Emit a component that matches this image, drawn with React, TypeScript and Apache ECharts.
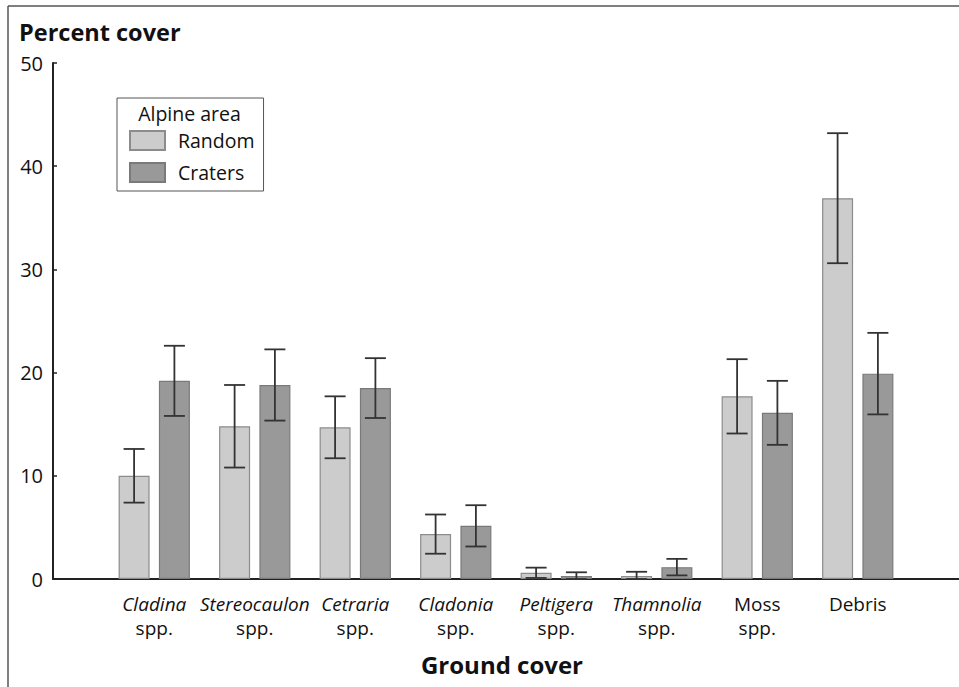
import React, { useEffect, useRef } from "react";
import * as echarts from "echarts";

const categories = [
  "Cladina spp.",
  "Stereocaulon spp.",
  "Cetraria spp.",
  "Cladonia spp.",
  "Peltigera spp.",
  "Thamnolia spp.",
  "Moss spp.",
  "Debris",
];
const italicGenus = [true, true, true, true, true, true, false, false];

const randomMean = [10.0, 14.8, 14.7, 4.35, 0.6, 0.3, 17.7, 36.9];
const randomErr = [2.6, 4.0, 3.0, 1.9, 0.5, 0.4, 3.6, 6.3];
const cratersMean = [19.2, 18.8, 18.5, 5.15, 0.3, 1.15, 16.1, 19.9];
const cratersErr = [3.4, 3.45, 2.9, 2.0, 0.35, 0.8, 3.1, 3.95];

const yTicks = [0, 10, 20, 30, 40, 50];
const seriesNames = ["Random", "Craters"];
const legendTitle = "Alpine area";
const yTitle = "Percent cover";
const xTitle = "Ground cover";

const FONT = "'Open Sans', 'Noto Sans', sans-serif";
const BAR_W = 31;
const BAR_GAP = 0.3;

export default function App() {
  const ref = useRef<HTMLDivElement>(null);
  useEffect(() => {
    if (!ref.current) return;
    const chart = echarts.init(ref.current, null, { renderer: "svg" });
    const half = (BAR_W * (1 + BAR_GAP)) / 2;
    const errData: number[][] = [];
    categories.forEach((_, i) => {
      errData.push([i, randomMean[i], randomErr[i], -1]);
      errData.push([i, cratersMean[i], cratersErr[i], 1]);
    });
    const option: any = {
      animation: false,
      backgroundColor: "#ffffff",
      textStyle: { fontFamily: FONT, color: "#111" },
      grid: [
        { left: 53, right: 0, top: 63, bottom: 108 },
        { left: 104, right: 51, top: 63, bottom: 108 },
      ],
      xAxis: [
        {
          gridIndex: 0,
          type: "value",
          min: 0,
          max: 1,
          axisLine: { show: true, onZero: false, lineStyle: { color: "#222", width: 2 } },
          axisTick: { show: false },
          axisLabel: { show: false },
          splitLine: { show: false },
        },
        {
          gridIndex: 1,
          type: "category",
          data: categories,
          axisLine: { show: false },
          axisTick: { show: false },
          splitLine: { show: false },
          axisLabel: {
            interval: 0,
            margin: 13,
            formatter: (v: string) => {
              const idx = categories.indexOf(v);
              const parts = v.split(" ");
              const g = italicGenus[idx] ? `{i|${parts[0]}}` : `{n|${parts[0]}}`;
              return parts.length > 1 ? `${g}\n{n|${parts.slice(1).join(" ")}}` : g;
            },
            rich: {
              i: { fontStyle: "italic", fontSize: 19, lineHeight: 24, fontFamily: FONT, color: "#111" },
              n: { fontSize: 19, lineHeight: 24, fontFamily: FONT, color: "#111" },
            },
          },
        },
      ],
      yAxis: [
        {
          gridIndex: 0,
          type: "value",
          min: yTicks[0],
          max: yTicks[yTicks.length - 1],
          interval: yTicks[1] - yTicks[0],
          axisLine: { show: true, lineStyle: { color: "#222", width: 2 } },
          axisTick: { show: true, inside: true, length: 4, lineStyle: { color: "#222", width: 1.5 } },
          axisLabel: { fontSize: 20, color: "#111", margin: 10, fontFamily: FONT },
          splitLine: { show: false },
        },
        {
          gridIndex: 1,
          type: "value",
          min: yTicks[0],
          max: yTicks[yTicks.length - 1],
          interval: yTicks[1] - yTicks[0],
          show: false,
        },
      ],
      legend: {
        data: seriesNames,
        orient: "vertical",
        icon: "rect",
        left: 117,
        top: 98,
        padding: [32, 9, 8, 12],
        itemWidth: 35,
        itemHeight: 19,
        itemGap: 11,
        borderColor: "#555",
        borderWidth: 1,
        textStyle: { fontSize: 19.5, lineHeight: 19, color: "#111", fontFamily: FONT, padding: [0, 0, 0, 8] },
      },
      series: [
        {
          name: seriesNames[0],
          type: "bar",
          xAxisIndex: 1,
          yAxisIndex: 1,
          data: randomMean,
          barWidth: BAR_W,
          barGap: `${BAR_GAP * 100}%`,
          itemStyle: { color: "#cccccc", borderColor: "#8c8c8c", borderWidth: 1.2 },
        },
        {
          name: seriesNames[1],
          type: "bar",
          xAxisIndex: 1,
          yAxisIndex: 1,
          data: cratersMean,
          barWidth: BAR_W,
          barGap: `${BAR_GAP * 100}%`,
          itemStyle: { color: "#999999", borderColor: "#7a7a7a", borderWidth: 1.2 },
        },
        {
          name: "errors",
          type: "custom",
          xAxisIndex: 1,
          yAxisIndex: 1,
          encode: { x: 0, y: 1 },
          data: errData,
          z: 10,
          renderItem: (params: any, api: any) => {
            const i = api.value(0);
            const m = api.value(1);
            const e = api.value(2);
            const dir = api.value(3);
            const top = api.coord([i, m + e]);
            const bot = api.coord([i, Math.max(0, m - e)]);
            const x = top[0] + dir * half;
            const cap = 10.5;
            const style = { stroke: "#333", lineWidth: 1.8 };
            return {
              type: "group",
              children: [
                { type: "line", shape: { x1: x, y1: top[1], x2: x, y2: bot[1] }, style },
                { type: "line", shape: { x1: x - cap, y1: top[1], x2: x + cap, y2: top[1] }, style },
                { type: "line", shape: { x1: x - cap, y1: bot[1], x2: x + cap, y2: bot[1] }, style },
              ],
            };
          },
        },
      ],
      graphic: [
        { type: "line", shape: { x1: 8, y1: 6, x2: 959, y2: 6 }, style: { stroke: "#555", lineWidth: 1.5 } },
        { type: "line", shape: { x1: 8, y1: 6, x2: 8, y2: 687 }, style: { stroke: "#555", lineWidth: 1.5 } },
        {
          type: "text",
          x: 19,
          y: 32,
          style: { text: yTitle, fontSize: 23.5, fontWeight: "bold", fontFamily: FONT, fill: "#111", textVerticalAlign: "middle" },
        },
        {
          type: "text",
          x: 502,
          y: 664,
          style: { text: xTitle, fontSize: 24, fontWeight: "bold", fontFamily: FONT, fill: "#111", textAlign: "center", textVerticalAlign: "middle" },
        },
        {
          type: "text",
          x: 189.5,
          y: 113,
          z: 20,
          style: { text: legendTitle, fontSize: 19.5, fontFamily: FONT, fill: "#111", textAlign: "center", textVerticalAlign: "middle" },
        },
      ],
    };
    chart.setOption(option);
    return () => chart.dispose();
  }, []);
  return <div ref={ref} style={{ width: 959, height: 687, position: "absolute", left: 0, top: 0 }} />;
}
